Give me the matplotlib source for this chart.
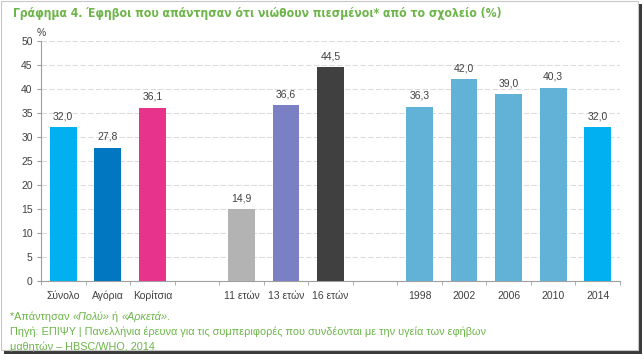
import matplotlib
matplotlib.use("Agg")
import matplotlib.pyplot as plt
from matplotlib.patches import Rectangle
from matplotlib import font_manager

plt.rcParams['font.family'] = ['Liberation Sans', 'DejaVu Sans']

# data
categories = ['Σύνολο', 'Αγόρια', 'Κορίτσια', '', '11 ετών', '13 ετών', '16 ετών',
              '', '1998', '2002', '2006', '2010', '2014']
values = [32.0, 27.8, 36.1, None, 14.9, 36.6, 44.5, None, 36.3, 42.0, 39.0, 40.3, 32.0]
colors = ['#00b0f0', '#0077c0', '#e8338a', None, '#b3b3b3', '#7b80c4', '#404040',
          None, '#62b1d6', '#62b1d6', '#62b1d6', '#62b1d6', '#00b0f0']
y_ticks = list(range(0, 51, 5))

green = '#6cb548'
grey_text = '#404040'

fig = plt.figure(figsize=(6.44, 3.63), dpi=100)
fig.patch.set_facecolor('white')

W, H = 644, 363
# frame with drop shadow
fig.patches.append(Rectangle((4 / W, (H - 354) / H), 638 / W, 350 / H,
                             transform=fig.transFigure, facecolor='#3a3a3a',
                             edgecolor='none', zorder=-3))
fig.patches.append(Rectangle((1 / W, (H - 350) / H), 637 / W, 349 / H,
                             transform=fig.transFigure, facecolor='white',
                             edgecolor='#c8c8c8', linewidth=0.8, zorder=-2))

ax = fig.add_axes([41 / W, (H - 281) / H, 579 / W, 240 / H])
ax.set_facecolor('none')

x_pos = [i for i, v in enumerate(values) if v is not None]
heights = [v for v in values if v is not None]
bar_colors = [c for c in colors if c is not None]
ax.bar(x_pos, heights, width=0.6, color=bar_colors, zorder=3)

for x, v in zip(x_pos, heights):
    ax.text(x, v + 1.2, f'{v:.1f}'.replace('.', ','), ha='center', va='bottom',
            fontsize=7.5, color=grey_text)

ax.set_xlim(-0.5, len(categories) - 0.5)
ax.set_ylim(0, 50)
ax.set_yticks(y_ticks)
ax.set_yticklabels([str(t) for t in y_ticks], fontsize=7.5, color=grey_text)
ax.set_xticks(range(len(categories)))
ax.set_xticklabels(categories, fontsize=7.5, color=grey_text)
ax.tick_params(axis='x', length=0, pad=7)
ax.set_xticks([i + 0.5 for i in range(-1, len(categories))], minor=True)
ax.tick_params(axis='x', which='minor', length=3, color='#a0a0a0', direction='out')
ax.tick_params(axis='y', length=3, color='#a0a0a0', pad=3)

ax.grid(axis='y', color='#dcdcdc', linestyle=(0, (5, 2)), linewidth=0.8, zorder=0)
for side in ['top', 'right']:
    ax.spines[side].set_visible(False)
ax.spines['left'].set_color('#a0a0a0')
ax.spines['bottom'].set_color('#a0a0a0')

fig.text(37 / W, 1 - 33 / H, '%', fontsize=7.5, color=grey_text, ha='left', va='center')

renderer = fig.canvas.get_renderer()

# condensed face for the title if one is installed, sized to span ~490 px
condensed = [f.name for f in font_manager.fontManager.ttflist
             if 'condensed' in f.fname.lower() or 'narrow' in f.fname.lower()]
title_family = condensed[:1] + ['Liberation Sans', 'DejaVu Sans']
title = fig.text(13 / W, 1 - 14 / H,
                 'Γράφημα 4. Έφηβοι που απάντησαν ότι νιώθουν πιεσμένοι* από το σχολείο (%)',
                 fontsize=12, fontweight='bold', color=green, ha='left', va='center',
                 family=title_family, fontstretch='condensed')
title.set_fontsize(12 * 490 / title.get_window_extent(renderer).width)

parts = [('*Απάντησαν ', 'normal'), ('«Πολύ»', 'italic'), (' ή ', 'normal'),
         ('«Αρκετά»', 'italic'), ('.', 'normal')]
x_cur = 10
for txt, style in parts:
    t = fig.text(x_cur / W, 1 - 317 / H, txt, fontsize=7.8, color=green,
                 style=style, ha='left', va='center')
    x_cur += t.get_window_extent(renderer).width
fig.text(10 / W, 1 - 332 / H,
         'Πηγή: ΕΠΙΨΥ | Πανελλήνια έρευνα για τις συμπεριφορές που συνδέονται με την υγεία των εφήβων',
         fontsize=7.8, color=green, ha='left', va='center')
fig.text(10 / W, 1 - 347 / H, 'μαθητών – HBSC/WHO, 2014',
         fontsize=7.8, color=green, ha='left', va='center')

fig.savefig('out.png', dpi=100)
